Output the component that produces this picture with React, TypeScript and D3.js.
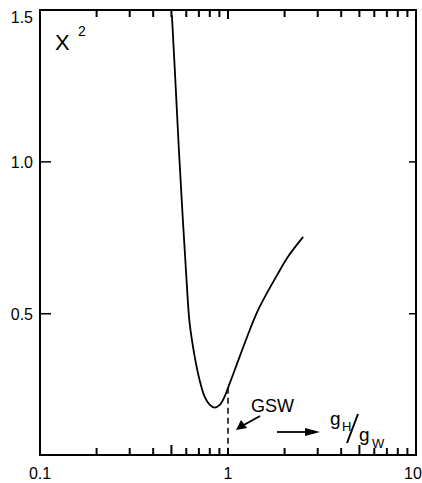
import React from "react";
import * as d3 from "d3";

const curveX = [0.503, 0.522, 0.548, 0.611, 0.625, 0.665, 0.706, 0.751, 0.8, 0.849, 0.904, 0.959, 1.0, 1.086, 1.227, 1.445, 1.89, 2.08, 2.51];
const curveY = [1.483, 1.296, 1.039, 0.545, 0.469, 0.359, 0.282, 0.227, 0.2, 0.191, 0.2, 0.227, 0.256, 0.315, 0.403, 0.512, 0.644, 0.687, 0.753];
const xMinorTicks = [0.2, 0.3, 0.4, 0.5, 0.6, 0.7, 0.8, 0.9, 1, 2, 3, 4, 5, 6, 7, 8, 9];
const yTicks = [0.5, 1.0];
const yTickLabels = ["0.5", "1.0", "1.5"];
const yLabelValues = [0.5, 1.0, 1.5];
const xMajor = [0.1, 1, 10];
const xMajorLabels = ["0.1", "1", "10"];
const gswX = 1;
const gswY = 0.256;

const W = 422, H = 483;
const L = 40, R = 416, T = 10, B = 455;

export default function App() {
  const x = d3.scaleLog().domain([0.1, 10]).range([L, R]);
  const y = d3.scaleLinear().domain([0.035, 1.5]).range([B, T]);
  const pts: [number, number][] = curveX.map((v, i) => [v, curveY[i]]);
  const line = d3
    .line<[number, number]>()
    .x((d) => x(d[0]))
    .y((d) => y(d[1]))
    .curve(d3.curveCatmullRom.alpha(0.5));
  const font = "'Liberation Sans', Arial, sans-serif";
  return (
    <svg width={W} height={H} style={{ position: "absolute", left: 0, top: 0, background: "#fff" }}>
      <rect x={L} y={T} width={R - L} height={B - T} fill="none" stroke="#000" strokeWidth={2} />
      {xMinorTicks.map((t) => {
        const px = x(t);
        const lb = t === 0.5 || t === 5 ? 10 : 7;
        return (
          <g key={"t" + t}>
            <line x1={px} x2={px} y1={B} y2={B - lb} stroke="#000" strokeWidth={2} />
            <line x1={px} x2={px} y1={T} y2={T + (t === 1 ? 9 : 7)} stroke="#000" strokeWidth={2} />
          </g>
        );
      })}
      {yTicks.map((t) => (
        <g key={t}>
          <line x1={L} x2={L + 11} y1={y(t)} y2={y(t)} stroke="#000" strokeWidth={1.5} />
          <line x1={R} x2={R - 7} y1={y(t)} y2={y(t)} stroke="#000" strokeWidth={1.5} />
        </g>
      ))}
      {yLabelValues.map((v, i) => (
        <text key={v} x={33} y={i === 2 ? 23 : y(v) + 6} textAnchor="end" fontFamily={font} fontSize={16}>
          {yTickLabels[i]}
        </text>
      ))}
      {xMajor.map((v, i) => (
        <text key={v} x={i === 2 ? 413 : x(v)} y={479} textAnchor="middle" fontFamily={font} fontSize={16}>
          {xMajorLabels[i]}
        </text>
      ))}
      <path d={line(pts) || ""} fill="none" stroke="#000" strokeWidth={1.8} />
      <line x1={x(gswX)} x2={x(gswX)} y1={y(gswY)} y2={B} stroke="#000" strokeWidth={1.5} strokeDasharray="6,4" />
      <text x={55} y={50} fontFamily={font} fontSize={22}>X</text>
      <text x={78} y={36} fontFamily={font} fontSize={14}>2</text>
      <text x={251} y={412} fontFamily={font} fontSize={18}>GSW</text>
      <line x1={260} y1={416} x2={242} y2={426} stroke="#000" strokeWidth={2} />
      <polygon points="236,430 241,420 247,428" fill="#000" />
      <line x1={277} y1={432} x2={308} y2={432} stroke="#000" strokeWidth={1.8} />
      <polygon points="320,432 305,428 305,436" fill="#000" />
      <text x={330} y={425} fontFamily={font} fontSize={19}>g</text>
      <text x={342} y={431} fontFamily={font} fontSize={13}>H</text>
      <line x1={347} y1={443} x2={358} y2={414} stroke="#000" strokeWidth={2} />
      <text x={359} y={441} fontFamily={font} fontSize={19}>g</text>
      <text x={372} y={448} fontFamily={font} fontSize={13}>W</text>
    </svg>
  );
}
